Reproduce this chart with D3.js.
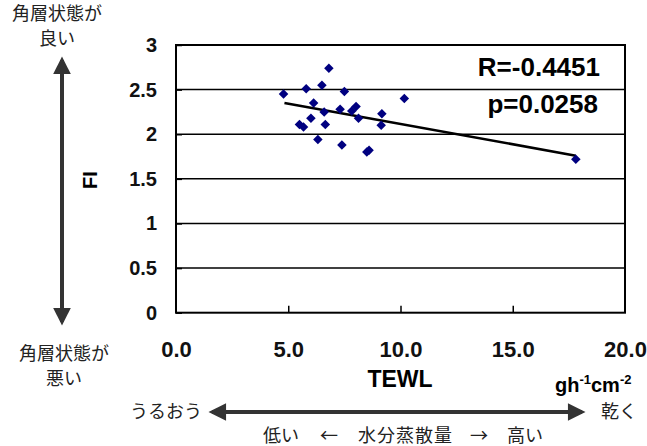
<!DOCTYPE html>
<html>
<head>
<meta charset="utf-8">
<script src="https://cdn.jsdelivr.net/npm/d3@7"></script>
<style>
  body { margin: 0; background: #fff; }
  svg text { font-family: "Liberation Sans", Arial, sans-serif; }
  .jp { font-family: "Noto Sans CJK JP", sans-serif; font-size: 18px; fill: #222; }
</style>
</head>
<body>
<div id="chart"></div>
<script>
// data
var tewl = [4.79, 5.80, 6.50, 6.81, 7.50, 10.17, 6.13, 6.60, 7.31, 7.83, 8.02, 8.13,
            9.17, 9.14, 5.50, 5.68, 6.01, 6.65, 6.32, 7.39, 8.50, 8.60, 17.81];
var fi   = [2.45, 2.51, 2.55, 2.74, 2.48, 2.40, 2.35, 2.25, 2.28, 2.26, 2.31, 2.18,
            2.23, 2.10, 2.11, 2.08, 2.18, 2.11, 1.94, 1.88, 1.80, 1.82, 1.72];
var trendX = [4.83, 17.81];
var trendY = [2.35, 1.76];
var xTicks = [0, 5, 10, 15, 20];
var yTicks = [0, 0.5, 1, 1.5, 2, 2.5, 3];

var w = 647, h = 446;
var plotL = 176, plotR = 625, plotT = 45, plotB = 312.7;

var svg = d3.select("#chart").append("svg")
    .attr("width", w)
    .attr("height", h);

// arrow heads
var defs = svg.append("defs");
defs.append("marker")
    .attr("id", "head")
    .attr("viewBox", "0 0 10 10")
    .attr("refX", 8).attr("refY", 5)
    .attr("markerWidth", 5.5).attr("markerHeight", 4.4)
    .attr("markerUnits", "strokeWidth")
    .attr("orient", "auto-start-reverse")
    .append("path")
    .attr("d", "M0,0 L10,5 L0,10 Z")
    .attr("fill", "#333");

var x = d3.scaleLinear().domain([0, 20]).range([plotL, plotR]);
var y = d3.scaleLinear().domain([0, 3]).range([plotB, plotT]);

// gridlines
svg.append("g").selectAll("line")
    .data(yTicks.filter(function(d) { return d > 0 && d < 3; }))
    .enter()
    .append("line")
    .attr("x1", plotL).attr("x2", plotR)
    .attr("y1", function(d) { return y(d); })
    .attr("y2", function(d) { return y(d); })
    .attr("stroke", "#000")
    .attr("stroke-width", 1.5);

// plot frame
svg.append("rect")
    .attr("x", plotL).attr("y", plotT)
    .attr("width", plotR - plotL).attr("height", plotB - plotT)
    .attr("fill", "none")
    .attr("stroke", "#000")
    .attr("stroke-width", 2);

// axes
var yAxis = d3.axisLeft(y).tickValues(yTicks)
    .tickSize(-6).tickPadding(19)
    .tickFormat(function(d) { return d; });
var gy = svg.append("g").attr("transform", "translate(" + plotL + ",0)").call(yAxis);
gy.select(".domain").remove();
gy.selectAll("line").attr("stroke", "#000").attr("stroke-width", 1.5);
gy.selectAll("text")
    .attr("font-family", "Liberation Sans, Arial, sans-serif")
    .attr("font-size", "20px").attr("font-weight", "bold").attr("fill", "#111");

var xAxis = d3.axisBottom(x).tickValues(xTicks)
    .tickSize(-7).tickPadding(29)
    .tickFormat(d3.format(".1f"));
var gx = svg.append("g").attr("transform", "translate(0," + plotB + ")").call(xAxis);
gx.select(".domain").remove();
gx.selectAll("line").attr("stroke", "#000").attr("stroke-width", 1.5);
gx.selectAll("line").filter(function(d) { return d == 0 || d == 20; }).remove();
gx.selectAll("text")
    .attr("font-family", "Liberation Sans, Arial, sans-serif")
    .attr("font-size", "22px").attr("font-weight", "bold").attr("fill", "#111");

// trend line
var pts = trendX.map(function(d, i) { return [d, trendY[i]]; });
svg.append("path")
    .datum(pts)
    .attr("d", d3.line()
        .x(function(d) { return x(d[0]); })
        .y(function(d) { return y(d[1]); }))
    .attr("fill", "none")
    .attr("stroke", "#000")
    .attr("stroke-width", 2.5);

// points
svg.selectAll(".pt")
    .data(tewl)
    .enter()
    .append("path")
    .attr("class", "pt")
    .attr("d", d3.symbol().type(d3.symbolDiamond2).size(58))
    .attr("transform", function(d, i) {
        return "translate(" + x(d) + "," + y(fi[i]) + ")";
    })
    .attr("fill", "#000080");

// stats
svg.append("text")
    .attr("x", 600).attr("y", 76)
    .attr("text-anchor", "end")
    .attr("font-size", "26px").attr("font-weight", "bold")
    .text("R=-0.4451");
svg.append("text")
    .attr("x", 598).attr("y", 113)
    .attr("text-anchor", "end")
    .attr("font-size", "26px").attr("font-weight", "bold")
    .text("p=0.0258");

// axis titles
svg.append("text")
    .attr("transform", "translate(97,180) rotate(-90)")
    .attr("text-anchor", "middle")
    .attr("font-size", "20px").attr("font-weight", "bold")
    .text("FI");
svg.append("text")
    .attr("x", 400).attr("y", 387)
    .attr("text-anchor", "middle")
    .attr("font-size", "23px").attr("font-weight", "bold")
    .text("TEWL");
var unit = svg.append("text")
    .attr("x", 555).attr("y", 392)
    .attr("font-size", "20px").attr("font-weight", "bold");
unit.append("tspan").text("gh");
unit.append("tspan").attr("dy", -8).attr("font-size", "13px").text("-1");
unit.append("tspan").attr("dy", 8).text("cm");
unit.append("tspan").attr("dy", -8).attr("font-size", "13px").text("-2");

// vertical arrow
svg.append("line")
    .attr("x1", 62).attr("x2", 62)
    .attr("y1", 60).attr("y2", 322)
    .attr("stroke", "#333").attr("stroke-width", 4)
    .attr("marker-start", "url(#head)")
    .attr("marker-end", "url(#head)");
svg.append("text").attr("class", "jp").attr("x", 57).attr("y", 20)
    .attr("font-size", "17px")
    .attr("text-anchor", "middle").text("角層状態が");
svg.append("text").attr("class", "jp").attr("x", 57).attr("y", 45)
    .attr("font-size", "17px")
    .attr("text-anchor", "middle").text("良い");
svg.append("text").attr("class", "jp").attr("x", 64).attr("y", 360)
    .attr("font-size", "17px")
    .attr("text-anchor", "middle").text("角層状態が");
svg.append("text").attr("class", "jp").attr("x", 64).attr("y", 385)
    .attr("font-size", "17px")
    .attr("text-anchor", "middle").text("悪い");

// horizontal arrow
svg.append("line")
    .attr("x1", 212).attr("x2", 582)
    .attr("y1", 412).attr("y2", 412)
    .attr("stroke", "#333").attr("stroke-width", 4)
    .attr("marker-start", "url(#head)")
    .attr("marker-end", "url(#head)");
svg.append("text").attr("class", "jp").attr("x", 202).attr("y", 418)
    .attr("text-anchor", "end").text("うるおう");
svg.append("text").attr("class", "jp").attr("x", 601).attr("y", 418)
    .text("乾く");
svg.append("text").attr("class", "jp").attr("x", 263).attr("y", 442).text("低い");
svg.append("text").attr("class", "jp").attr("x", 329).attr("y", 442)
    .attr("text-anchor", "middle").text("←");
svg.append("text").attr("class", "jp").attr("x", 358).attr("y", 442)
    .attr("letter-spacing", "1px").text("水分蒸散量");
svg.append("text").attr("class", "jp").attr("x", 479).attr("y", 442)
    .attr("text-anchor", "middle").text("→");
svg.append("text").attr("class", "jp").attr("x", 507).attr("y", 442).text("高い");
</script>
</body>
</html>
